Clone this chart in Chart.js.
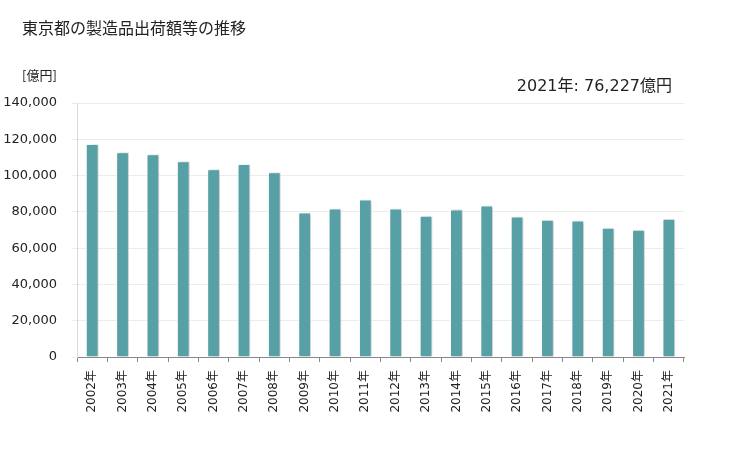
<!DOCTYPE html>
<html>
<head>
<meta charset="utf-8">
<script src="https://cdn.jsdelivr.net/npm/chart.js@4"></script>
<style>
  body { margin: 0; background: #fff; }
  canvas { display: block; }
</style>
</head>
<body>
<canvas id="chart" width="729" height="450"></canvas>
<script>
const years = ["2002年", "2003年", "2004年", "2005年", "2006年", "2007年", "2008年", "2009年", "2010年", "2011年",
  "2012年", "2013年", "2014年", "2015年", "2016年", "2017年", "2018年", "2019年", "2020年", "2021年"];
const shipments = [117400, 112900, 111800, 107900, 103500, 106400, 101800, 79600, 81800, 86800,
  81800, 77900, 81300, 83500, 77400, 75700, 75200, 71300, 70200, 76227];
const yTicks = [0, 20000, 40000, 60000, 80000, 100000, 120000, 140000];

const titleText = "東京都の製造品出荷額等の推移";
const unitText = "[億円]";
const noteText = "2021年: 76,227億円";

const jpFont = '"Noto Sans CJK JP", "DejaVu Sans", sans-serif';
const numFont = '"DejaVu Sans", "Noto Sans CJK JP", sans-serif';

const textPlugin = {
  id: "texts",
  afterDraw(chart) {
    const ctx = chart.ctx;
    ctx.save();
    ctx.fillStyle = "#222";
    ctx.textBaseline = "middle";
    ctx.textAlign = "left";
    ctx.font = "16px " + jpFont;
    ctx.fillText(titleText, 22, 28);
    ctx.font = "13px " + jpFont;
    ctx.fillText(unitText, 22, 75);
    ctx.textAlign = "right";
    ctx.font = "16px " + numFont;
    ctx.fillText(noteText, 672, 87);
    ctx.restore();
  }
};

// soft grey shadow on the right of each bar
const shadowPlugin = {
  id: "barShadow",
  beforeDatasetsDraw(chart) {
    const ctx = chart.ctx;
    ctx.save();
    ctx.shadowColor = "rgba(0,0,0,0.22)";
    ctx.shadowOffsetX = 2;
    ctx.shadowOffsetY = 0;
    ctx.shadowBlur = 3;
  },
  afterDatasetsDraw(chart) {
    chart.ctx.restore();
  }
};

new Chart(document.getElementById("chart"), {
  type: "bar",
  data: {
    labels: years,
    datasets: [{
      data: shipments,
      backgroundColor: "#57a0a6",
      borderColor: "#ffffff",
      borderWidth: 1,
      barPercentage: 0.42,
      categoryPercentage: 1
    }]
  },
  options: {
    responsive: false,
    animation: false,
    layout: { padding: { top: 103, right: 45, left: 0, bottom: 0 } },
    plugins: {
      legend: { display: false },
      tooltip: { enabled: false }
    },
    scales: {
      x: {
        grid: { display: true, drawOnChartArea: false, tickLength: 5, color: "#888" },
        border: { color: "#888" },
        ticks: {
          minRotation: 90, maxRotation: 90, padding: 8,
          color: "#222", font: { size: 12, family: numFont }
        },
        afterFit(axis) { axis.height = 93; }
      },
      y: {
        min: 0, max: 140000,
        afterBuildTicks(axis) { axis.ticks = yTicks.map(v => ({ value: v })); },
        grid: { color: "#ececec", tickLength: 5 },
        border: { color: "#d8d8d8" },
        ticks: {
          padding: 15, color: "#222", font: { size: 13, family: numFont },
          callback: v => v.toLocaleString("en-US")
        },
        afterFit(axis) { axis.width = 77; }
      }
    }
  },
  plugins: [shadowPlugin, textPlugin]
});
</script>
</body>
</html>
